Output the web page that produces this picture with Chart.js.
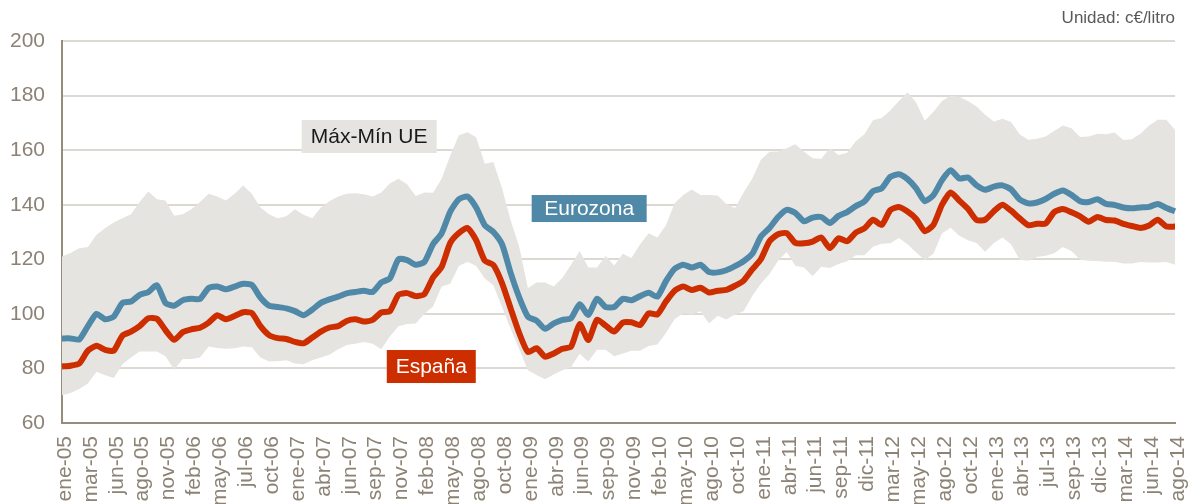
<!DOCTYPE html>
<html lang="es">
<head>
<meta charset="UTF-8">
<title>Precio gasolina</title>
<script src="https://cdn.jsdelivr.net/npm/chart.js"></script>
<style>
  body { margin: 0; background: #fff; overflow: hidden; }
  #wrap { width: 1190px; height: 520px; }
</style>
</head>
<body>
<div id="wrap"><canvas id="precios"></canvas></div>
<script>
// etiquetas del eje x (una cada tres puntos)
const meses = ['ene-05','mar-05','jun-05','ago-05','nov-05','feb-06','may-06','jul-06','oct-06','ene-07',
  'abr-07','jun-07','sep-07','nov-07','feb-08','may-08','ago-08','oct-08','ene-09','abr-09',
  'jun-09','sep-09','nov-09','feb-10','may-10','ago-10','oct-10','ene-11','abr-11','jun-11',
  'sep-11','dic-11','mar-12','may-12','ago-12','oct-12','ene-13','abr-13','jul-13','sep-13',
  'dic-13','mar-14','jun-14','ago-14'];

// c€/litro
const eurozona = [
  91, 91, 90.6, 95.5, 100, 98, 99, 104, 104.5, 107,
  108, 110.5, 104, 103, 105, 105.5, 105.5, 109.5, 110, 109,
  110, 111, 110.6, 106, 103, 102.5, 102, 101, 99.5, 101.5,
  104, 105.3, 106.3, 107.5, 108, 108.5, 108, 111.5, 113, 120,
  119.7, 118, 119, 125.5, 129.5, 137.5, 142, 143, 139, 132.5,
  130, 125.5, 115, 106, 99, 97.5, 94.5, 96.5, 97.8, 98.4,
  103.5, 99.6, 105.5, 102.5, 102.5, 105.5, 105, 106.5, 107.7, 106.3,
  112, 116.5, 118, 117, 118, 115.3, 115.2, 116, 117.5, 119.3,
  122, 128.3, 131.5, 135.5, 138.1, 137, 133.9, 135.3, 135.5, 133.3,
  135.9, 137.3, 139.5, 141.2, 145, 146, 150.2, 151.2, 149.4, 146,
  141.3, 143.5, 149, 152.6, 149.6, 150, 147.1, 145.5, 146.6, 147.1,
  145.6, 141.9, 140.5, 140.8, 142.1, 144, 145.2, 143.6, 141.3, 141,
  142, 140.3, 139.9, 139, 138.7, 139, 139.2, 140.3, 138.8, 137.6
];
const espana = [
  80.7, 81, 81.8, 86.5, 88.3, 86.8, 86.5, 92, 93.5, 95.5,
  98.4, 98.2, 94, 90.5, 93.3, 94.3, 94.9, 96.8, 99.5, 98,
  99.2, 100.6, 100.3, 95.5, 92.2, 91.1, 90.8, 89.7, 89.2, 91.3,
  93.5, 95, 95.5, 97.4, 98, 97.2, 97.8, 100.5, 101, 107,
  107.6, 106.5, 107.2, 113.3, 117.2, 126, 129.6, 131.5, 127, 119.5,
  117.9, 111.3, 102, 92.9, 86, 87.4, 84.3, 85.5, 87.2, 88,
  96.3, 90.4, 97.8, 95.7, 93.5, 96.8, 96.9, 95.9, 100.2, 99.8,
  104.5, 108.5, 110, 108.7, 109.6, 107.8, 108.5, 108.8, 110.3, 112.2,
  116.3, 120, 126.6, 129.2, 129.6, 126, 125.9, 126.5, 128, 124.1,
  127.7, 126.6, 129.8, 131.3, 134.5, 132.6, 138, 139.2, 137.5, 134.8,
  130.3, 132.6, 140, 144.5, 141.5, 138.5, 134.4, 134.5, 137.6, 140,
  137.8, 135, 132.5, 133, 133.1, 137.3, 138.4, 137.2, 135.7, 133.8,
  135.5, 134.4, 134.2, 133, 132.2, 131.5, 132.4, 134.5, 132, 132
];
const maxUE = [
  121, 122.3, 124, 124.5, 129, 131.5, 133.5, 135, 136.5, 141,
  144.8, 142, 141.5, 136, 136.5, 138.3, 141, 144, 143, 141.5,
  144, 147, 144, 139, 136.5, 135, 135.8, 138.3, 136.3, 135,
  139, 141.3, 143, 144, 144.2, 143.8, 143, 144.5, 147.8, 149.5,
  147.5, 143.2, 144.5, 144.4, 149.5, 158, 165.5, 166.6, 164.7, 155,
  155.7, 146, 134.3, 124.5, 109.5, 111.5, 111.5, 110, 113.2, 118,
  123, 117, 117, 121.2, 117.7, 122, 120.5, 125.5, 129.5, 128,
  132.5, 140.5, 143.6, 145.6, 143.6, 143.6, 143.4, 140.3, 138.8, 144.5,
  149.5, 156.5, 159.4, 159.5, 160.7, 162.2, 159.4, 157, 156.8, 160.7,
  158.2, 159, 163.3, 165.8, 171, 171.8, 174.5, 178, 181.2, 177.5,
  170.8, 174.1, 178, 180, 179.6, 178, 176, 173, 170.5, 171.5,
  170.3, 165.8, 163.8, 164.2, 165, 167, 169, 168, 164.8, 165,
  166, 165.8, 166.5, 163.7, 164, 166, 169, 171.1, 171.1, 167.4
];
const minUE = [
  70.2, 71, 72.5, 74.5, 78.8, 77.5, 76.5, 81.5, 84, 86.2,
  86.2, 86.2, 84.5, 79.5, 83.5, 83.5, 84, 88, 87.5, 87.2,
  87.4, 88, 87.8, 84, 82.5, 82.6, 83, 81.8, 81.5, 83,
  84, 85, 87, 88.6, 89, 89.7, 89, 87, 91.7, 95.5,
  96.3, 96.5, 100, 102.7, 110, 111, 117.5, 119.1, 117.5, 113,
  110.5, 102.5, 94.5, 87, 79.3, 77.6, 76, 77.8, 79.3, 80.4,
  85.4, 82.5, 86.8, 86.8, 84.5, 85.5, 86.5, 86.5, 88.2, 88.8,
  93, 98, 100.2, 99.7, 101, 96.5, 99.3, 97.9, 99.8, 101,
  106.5, 111, 114.6, 119.5, 122.7, 117.6, 117, 113.8, 117.3, 116.8,
  118.3, 119.3, 121.5, 121.5, 124.6, 125.7, 125.9, 127.8, 125.5, 122.5,
  119.7, 122, 129.5, 131.6, 128.6, 127, 126, 122.8, 126, 128,
  125.5, 119.8, 119.5, 120.8, 121.3, 122.2, 124.5, 123, 119.8, 119.5,
  119.4, 119.1, 119.1, 118.5, 118.5, 119, 118.8, 118.8, 119, 118
];

const labels = eurozona.map((_, i) => (i % 3 === 0 ? meses[i / 3] : ''));

const FUENTE = "'Liberation Sans', Arial, sans-serif";
const GRIS = '#8c8275';

// cajas de texto sobre el gráfico, colocadas en coordenadas de datos
const etiquetas = [
  { texto: 'Máx-Mín UE', i: 35.6, v: 165, w: 135, h: 33, fondo: '#e6e4e1', color: '#1a1a1a' },
  { texto: 'Eurozona', i: 61.1, v: 138.6, w: 115, h: 27, fondo: '#5088a8', color: '#ffffff' },
  { texto: 'España', i: 42.8, v: 80.7, w: 89, h: 33, fondo: '#cc2e00', color: '#ffffff' }
];

const cajas = {
  id: 'cajas',
  afterDatasetsDraw(chart) {
    const { ctx, scales: { x, y }, chartArea } = chart;
    ctx.save();
    ctx.font = '21px ' + FUENTE;
    ctx.textAlign = 'center';
    ctx.textBaseline = 'middle';
    etiquetas.forEach(e => {
      const cx = x.getPixelForValue(e.i);
      const cy = y.getPixelForValue(e.v);
      ctx.fillStyle = e.fondo;
      ctx.fillRect(cx - e.w / 2, cy - e.h / 2, e.w, e.h);
      ctx.fillStyle = e.color;
      ctx.fillText(e.texto, cx, cy + 1);
    });
    // unidad arriba a la derecha
    ctx.font = '17px ' + FUENTE;
    ctx.fillStyle = '#595959';
    ctx.textAlign = 'right';
    ctx.fillText('Unidad: c€/litro', chartArea.right, 18);
    ctx.restore();
  }
};

new Chart(document.getElementById('precios'), {
  type: 'line',
  data: {
    labels: labels,
    datasets: [
      { label: 'Máx UE', data: maxUE, borderWidth: 0, pointRadius: 0, fill: '+1',
        backgroundColor: '#e6e4e1', order: 3, tension: 0 },
      { label: 'Mín UE', data: minUE, borderWidth: 0, pointRadius: 0, fill: false,
        backgroundColor: '#e6e4e1', order: 3, tension: 0 },
      { label: 'Eurozona', data: eurozona, borderColor: '#5088a8', borderWidth: 6,
        pointRadius: 0, fill: false, order: 2, tension: 0.2 },
      { label: 'España', data: espana, borderColor: '#cc2e00', borderWidth: 6,
        pointRadius: 0, fill: false, order: 1, tension: 0.2 }
    ]
  },
  options: {
    responsive: true,
    maintainAspectRatio: false,
    animation: false,
    layout: { padding: { top: 41, right: 15, left: 0, bottom: 0 } },
    plugins: { legend: { display: false }, tooltip: { enabled: false } },
    scales: {
      x: {
        grid: { display: false, drawTicks: false },
        border: { display: true, color: '#968c7e', width: 2 },
        ticks: {
          autoSkip: false, minRotation: 90, maxRotation: 90, padding: 13, labelOffset: 3,
          color: GRIS, font: { family: FUENTE, size: 21 }
        },
        afterFit(scale) {
          scale.height = 97;
          scale.paddingLeft = 0;
          scale.paddingRight = 0;
        }
      },
      y: {
        min: 60, max: 200,
        grid: { color: '#dcd8d2', lineWidth: 2, drawTicks: false },
        border: { display: true, color: '#968c7e', width: 2 },
        ticks: { stepSize: 20, padding: 17, color: GRIS, font: { family: FUENTE, size: 21 } },
        afterFit(scale) { scale.width = 62; }
      }
    }
  },
  plugins: [cajas]
});
</script>
</body>
</html>
